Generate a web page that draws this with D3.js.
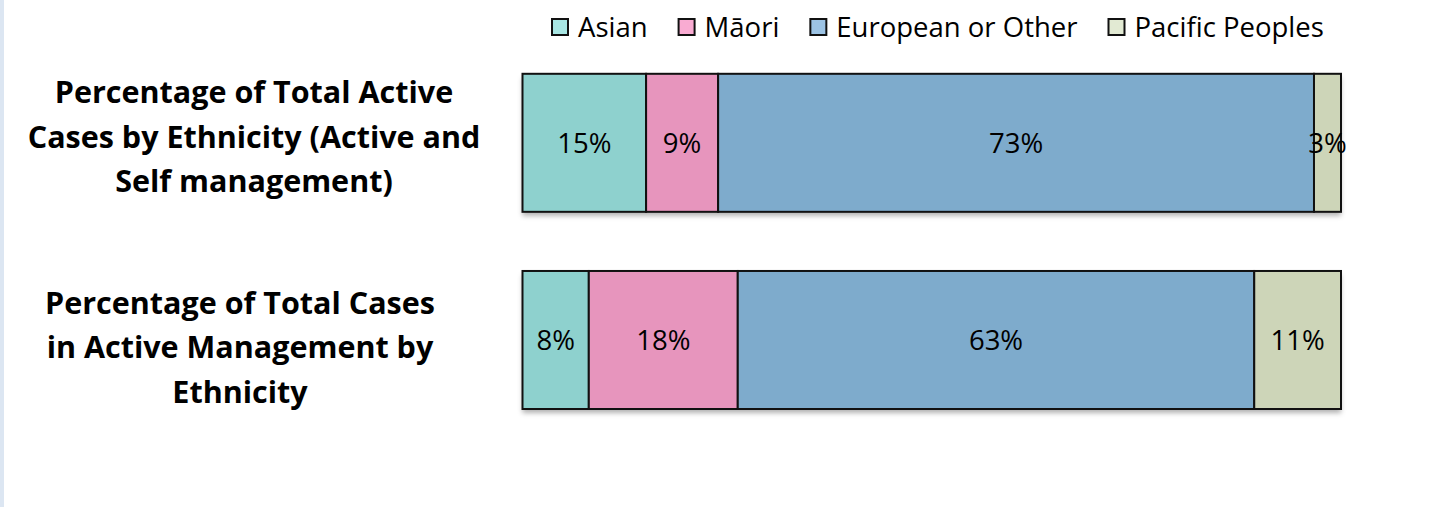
<!DOCTYPE html>
<html>
<head>
<meta charset="utf-8">
<script src="https://cdn.jsdelivr.net/npm/d3@7"></script>
<style>
  body { margin: 0; background: #fff; }
  svg { display: block; font-family: "Open Sans", Lato, sans-serif; }
</style>
</head>
<body>
<svg id="chart"></svg>
<script>
var width = 1436;
var height = 507;

// data
var ethnicities = ["Asian", "Māori", "European or Other", "Pacific Peoples"];
var rowLabels = [
    ["Percentage of Total Active", "Cases by Ethnicity (Active and", "Self management)"],
    ["Percentage of Total Cases", "in Active Management by", "Ethnicity"]
];
var activeAndSelf = [15.1, 8.8, 72.8, 3.3];
var activeOnly = [8.1, 18.2, 63.1, 10.6];
var rows = [activeAndSelf, activeOnly];

var barColors = ["#8ed1ce", "#e795bd", "#7eabcc", "#cdd5b8"];
var legendColors = ["#a8e6e3", "#f9abd2", "#9cc3e4", "#e2ead3"];

var svg = d3.select("#chart")
    .attr("width", width)
    .attr("height", height);

// light strip on the left edge
svg.append("rect")
    .attr("x", 0).attr("y", 0)
    .attr("width", 4).attr("height", height)
    .attr("fill", "#dce6f2");

var defs = svg.append("defs");
defs.append("filter")
    .attr("id", "shadow")
    .attr("x", "-5%").attr("y", "-10%")
    .attr("width", "110%").attr("height", "130%")
    .append("feDropShadow")
    .attr("dx", 0).attr("dy", 4)
    .attr("stdDeviation", 2.5)
    .attr("flood-color", "#000")
    .attr("flood-opacity", 0.3);

// scales
var xScale = d3.scaleLinear().domain([0, 100]).range([522.5, 1341]);
var yScale = d3.scaleBand()
    .domain(d3.range(rows.length))
    .range([73.8, 409])
    .paddingInner(0.3)
    .paddingOuter(0);

var stackData = rows.map(function (vals, i) {
    var x0 = 0;
    return vals.map(function (v, j) {
        var seg = { row: i, key: j, start: x0, end: x0 + v, value: v };
        x0 += v;
        return seg;
    });
});

// bars
var rowGroups = svg.selectAll(".row")
    .data(stackData)
    .enter()
    .append("g")
    .attr("class", "row");

rowGroups.append("rect")
    .attr("x", xScale(0))
    .attr("y", function (d, i) { return yScale(i); })
    .attr("width", function (d) { return xScale(d[d.length - 1].end) - xScale(0); })
    .attr("height", yScale.bandwidth())
    .attr("fill", "#fff")
    .attr("filter", "url(#shadow)");

rowGroups.selectAll(".seg")
    .data(function (d) { return d; })
    .enter()
    .append("rect")
    .attr("class", "seg")
    .attr("x", function (d) { return xScale(d.start); })
    .attr("y", function (d) { return yScale(d.row); })
    .attr("width", function (d) { return xScale(d.end) - xScale(d.start); })
    .attr("height", yScale.bandwidth())
    .attr("fill", function (d) { return barColors[d.key]; })
    .attr("stroke", "#111")
    .attr("stroke-width", 2);

rowGroups.selectAll(".val")
    .data(function (d) { return d; })
    .enter()
    .append("text")
    .attr("class", "val")
    .attr("x", function (d) { return (xScale(d.start) + xScale(d.end)) / 2; })
    .attr("y", function (d) { return yScale(d.row) + yScale.bandwidth() / 2; })
    .attr("dy", "0.36em")
    .attr("text-anchor", "middle")
    .style("font-size", "27.5px")
    .attr("fill", "#000")
    .text(function (d) { return Math.round(d.value) + "%"; });

// category labels on the left
var labelCx = [254, 240];
var labelMidBase = [147.5, 358];
var lineGap = 44.5;

rowLabels.forEach(function (lines, i) {
    svg.append("text")
        .attr("text-anchor", "middle")
        .style("font-size", "30.5px")
        .style("font-weight", "bold")
        .attr("fill", "#000")
        .selectAll("tspan")
        .data(lines)
        .enter()
        .append("tspan")
        .attr("x", labelCx[i])
        .attr("y", function (d, k) { return labelMidBase[i] + (k - 1) * lineGap; })
        .text(function (d) { return d; });
});

// legend
var legend = svg.append("g").attr("transform", "translate(551, 18)");
var lx = 0;
ethnicities.forEach(function (name, i) {
    var g = legend.append("g").attr("transform", "translate(" + lx + ",0)");
    g.append("rect")
        .attr("x", 1).attr("y", 1)
        .attr("width", 16).attr("height", 16)
        .attr("fill", legendColors[i])
        .attr("stroke", "#111")
        .attr("stroke-width", 2);
    var t = g.append("text")
        .attr("x", 27)
        .attr("y", 9)
        .attr("dy", "0.36em")
        .style("font-size", "27.5px")
        .attr("fill", "#000")
        .text(name);
    lx += 27 + t.node().getComputedTextLength() + 30;
});
</script>
</body>
</html>
